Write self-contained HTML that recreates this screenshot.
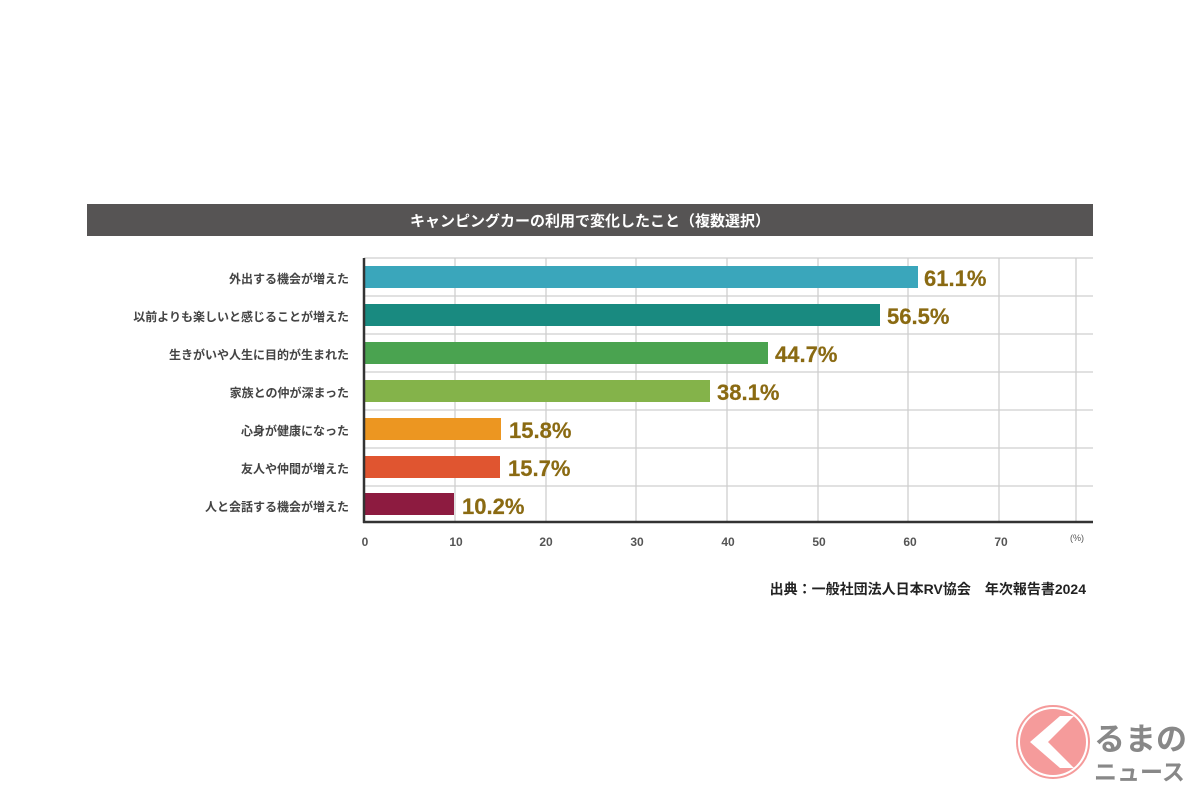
<!DOCTYPE html>
<html><head><meta charset="utf-8"><style>
body{margin:0;width:1200px;height:800px;background:#fff;overflow:hidden;font-family:"Liberation Sans","Noto Sans CJK JP",sans-serif}
</style></head><body>
<svg width="1200" height="800" xmlns="http://www.w3.org/2000/svg" style="font-family:'Liberation Sans','Noto Sans CJK JP',sans-serif">
<rect x="87" y="204" width="1006" height="32" fill="#565454"/>
<text x="590" y="226" fill="#fff" font-size="15" font-weight="bold" text-anchor="middle">キャンピングカーの利用で変化したこと（複数選択）</text>
<g stroke="#cfcfcf" stroke-width="1.3">
<line x1="364" y1="258" x2="1093" y2="258"/><line x1="364" y1="296" x2="1093" y2="296"/>
<line x1="364" y1="334" x2="1093" y2="334"/><line x1="364" y1="372" x2="1093" y2="372"/>
<line x1="364" y1="410" x2="1093" y2="410"/><line x1="364" y1="448" x2="1093" y2="448"/>
<line x1="364" y1="486" x2="1093" y2="486"/>
<line x1="455" y1="258" x2="455" y2="522"/><line x1="546" y1="258" x2="546" y2="522"/>
<line x1="636" y1="258" x2="636" y2="522"/><line x1="727" y1="258" x2="727" y2="522"/>
<line x1="818" y1="258" x2="818" y2="522"/><line x1="908" y1="258" x2="908" y2="522"/>
<line x1="999" y1="258" x2="999" y2="522"/><line x1="1076" y1="258" x2="1076" y2="522"/>
</g>
<g>
<rect x="364" y="266" width="554" height="22" fill="#3aa6bb"/>
<rect x="364" y="304" width="516" height="22" fill="#198a80"/>
<rect x="364" y="342" width="404" height="22" fill="#4aa350"/>
<rect x="364" y="380" width="346" height="22" fill="#84b34a"/>
<rect x="364" y="418" width="137" height="22" fill="#ec9621"/>
<rect x="364" y="456" width="136" height="22" fill="#e05530"/>
<rect x="364" y="493" width="90" height="22" fill="#8d1b40"/>
</g>
<line x1="364" y1="258" x2="364" y2="523" stroke="#333" stroke-width="2.5"/>
<line x1="363" y1="522" x2="1093" y2="522" stroke="#333" stroke-width="2.5"/>
<g font-size="22" fill="#8a6a12" font-weight="bold" stroke="#8a6a12" stroke-width="0.2">
<text x="924" y="286">61.1%</text><text x="887" y="324">56.5%</text>
<text x="775" y="362">44.7%</text><text x="717" y="400">38.1%</text>
<text x="509" y="438">15.8%</text><text x="508" y="476">15.7%</text>
<text x="462" y="514">10.2%</text>
</g>
<g font-size="12" font-weight="bold" fill="#444" text-anchor="end">
<text x="349" y="283">外出する機会が増えた</text>
<text x="349" y="321">以前よりも楽しいと感じることが増えた</text>
<text x="349" y="359">生きがいや人生に目的が生まれた</text>
<text x="349" y="397">家族との仲が深まった</text>
<text x="349" y="435">心身が健康になった</text>
<text x="349" y="473">友人や仲間が増えた</text>
<text x="349" y="511">人と会話する機会が増えた</text>
</g>
<g font-size="12" font-weight="bold" fill="#555" text-anchor="middle">
<text x="365" y="546">0</text><text x="456" y="546">10</text><text x="546" y="546">20</text>
<text x="637" y="546">30</text><text x="728" y="546">40</text><text x="819" y="546">50</text>
<text x="910" y="546">60</text><text x="1001" y="546">70</text>
<text x="1077" y="541" font-size="9" font-weight="normal">(%)</text>
</g>
<text x="1086" y="594" font-size="14" font-weight="bold" fill="#222" text-anchor="end">出典：一般社団法人日本RV協会　年次報告書2024</text>
<circle cx="1053" cy="742" r="33" fill="#f59b9b"/>
<circle cx="1053" cy="742" r="36" fill="none" stroke="#f59b9b" stroke-width="2"/>
<polygon points="1060,716 1030,742 1060,768 1074,768 1048,742 1074,716" fill="#fff"/>
<text x="1094" y="750" font-size="31" font-weight="bold" fill="#888">るまの</text>
<text x="1094" y="780" font-size="23" font-weight="bold" fill="#888">ニュース</text>
</svg>
</body></html>
